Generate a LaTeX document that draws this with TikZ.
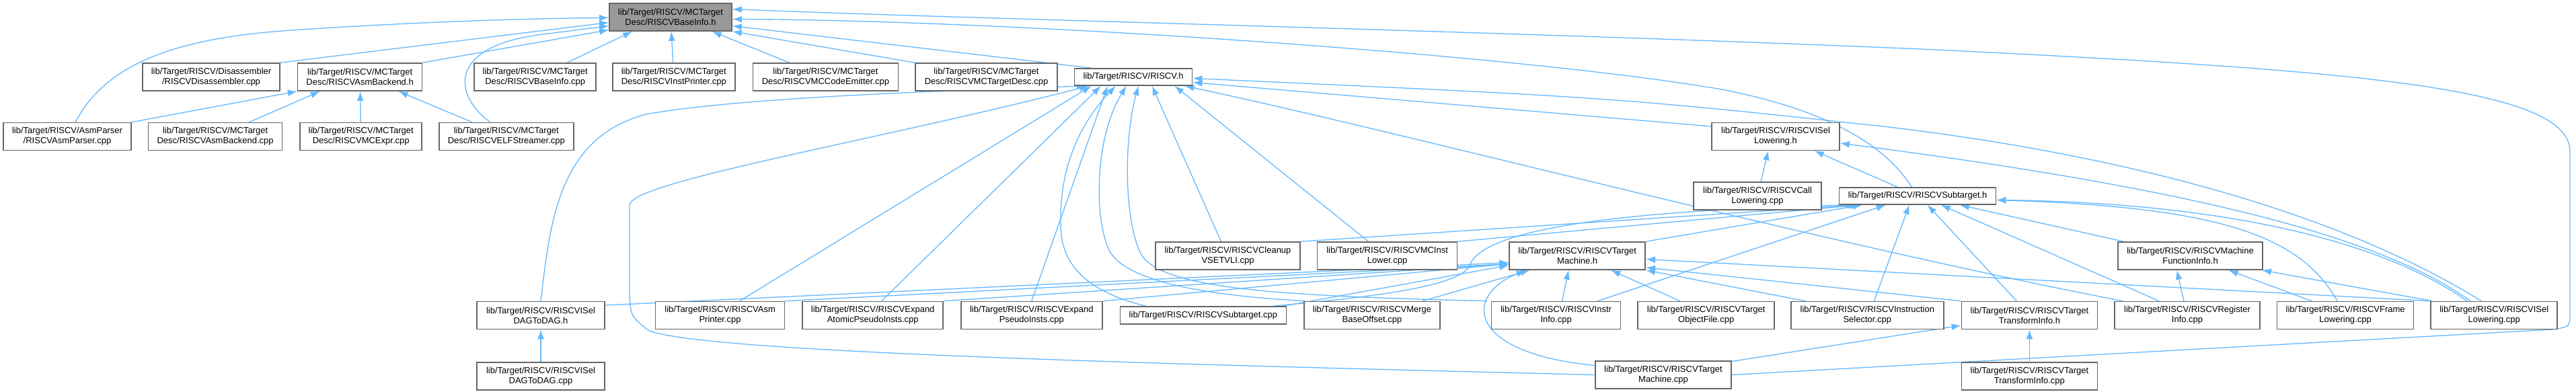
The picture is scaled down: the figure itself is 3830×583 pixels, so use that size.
\documentclass[tikz,border=0pt]{standalone}
\usepackage{fontspec}
\setmainfont{Liberation Sans}
\usetikzlibrary{positioning, arrows.meta, backgrounds}
\definecolor{edgecol}{RGB}{99, 184, 255}
\definecolor{boxline}{RGB}{102, 102, 102}
\definecolor{focusfill}{RGB}{153, 153, 153}
\tikzset{
  file/.style={draw=boxline, line width=1.6pt, fill=white, inner sep=0pt,
               minimum height=41pt, align=center, font={\fontsize{13}{15}\selectfont}},
  oneline/.style={file, minimum height=25pt},
  incl/.style={-{Latex[length=14pt, width=10pt]}, draw=edgecol, line width=1.3pt},
}

\begin{document}
\begin{tikzpicture}[x=1pt, y=-1pt]
  \useasboundingbox (0,0) rectangle (3830,583);

  % --- the header itself ---
  \node[file, fill=focusfill, minimum width=182pt] (baseinfoh) at (997,25.5)
        {lib/Target/RISCV/MCTarget\\Desc/RISCVBaseInfo.h};

  % --- second row ---
  \node[file, minimum width=204pt] (disasm) at (314,114.5)
        {lib/Target/RISCV/Disassembler\\/RISCVDisassembler.cpp};
  \node[file, minimum width=185pt, right=25pt of disasm] (asmbackendh)
        {lib/Target/RISCV/MCTarget\\Desc/RISCVAsmBackend.h};
  \node[file, minimum width=181pt, right=76pt of asmbackendh] (baseinfocpp)
        {lib/Target/RISCV/MCTarget\\Desc/RISCVBaseInfo.cpp};
  \node[file, minimum width=182pt, right=23pt of baseinfocpp] (instprinter)
        {lib/Target/RISCV/MCTarget\\Desc/RISCVInstPrinter.cpp};
  \node[file, minimum width=216pt, right=25pt of instprinter] (codeemitter)
        {lib/Target/RISCV/MCTarget\\Desc/RISCVMCCodeEmitter.cpp};
  \node[file, minimum width=211pt, right=24pt of codeemitter] (targetdesc)
        {lib/Target/RISCV/MCTarget\\Desc/RISCVMCTargetDesc.cpp};
  \node[oneline, minimum width=175pt, right=24pt of targetdesc] (riscvh)
        {lib/Target/RISCV/RISCV.h};

  % --- third row ---
  \node[file, minimum width=190pt] (asmparser) at (100,203)
        {lib/Target/RISCV/AsmParser\\/RISCVAsmParser.cpp};
  \node[file, minimum width=199pt, right=24pt of asmparser] (asmbackendcpp)
        {lib/Target/RISCV/MCTarget\\Desc/RISCVAsmBackend.cpp};
  \node[file, minimum width=181pt, right=25pt of asmbackendcpp] (mcexpr)
        {lib/Target/RISCV/MCTarget\\Desc/RISCVMCExpr.cpp};
  \node[file, minimum width=200pt, right=24pt of mcexpr] (elfstreamer)
        {lib/Target/RISCV/MCTarget\\Desc/RISCVELFStreamer.cpp};
  \node[file, minimum width=190pt] (isellowh) at (2640,203)
        {lib/Target/RISCV/RISCVISel\\Lowering.h};

  % --- fourth row ---
  \node[file, minimum width=190pt] (calllow) at (2613,291.5)
        {lib/Target/RISCV/RISCVCall\\Lowering.cpp};
  \node[oneline, minimum width=233pt, right=25pt of calllow] (subtargeth)
        {lib/Target/RISCV/RISCVSubtarget.h};

  % --- fifth row ---
  \node[file, minimum width=215pt] (cleanup) at (1825.5,380.5)
        {lib/Target/RISCV/RISCVCleanup\\VSETVLI.cpp};
  \node[file, minimum width=208pt, right=24pt of cleanup] (mcinstlower)
        {lib/Target/RISCV/RISCVMCInst\\Lower.cpp};
  \node[file, minimum width=202pt, right=76pt of mcinstlower] (tmh)
        {lib/Target/RISCV/RISCVTarget\\Machine.h};
  \node[file, minimum width=215pt] (mfih) at (3256.5,380.5)
        {lib/Target/RISCV/RISCVMachine\\FunctionInfo.h};

  % --- sixth row ---
  \node[file, minimum width=190pt] (iseldagh) at (804,469)
        {lib/Target/RISCV/RISCVISel\\DAGToDAG.h};
  \node[file, minimum width=192pt, right=74pt of iseldagh] (asmprinter)
        {lib/Target/RISCV/RISCVAsm\\Printer.cpp};
  \node[file, minimum width=209pt, right=25pt of asmprinter] (expandatomic)
        {lib/Target/RISCV/RISCVExpand\\AtomicPseudoInsts.cpp};
  \node[file, minimum width=210pt, right=25pt of expandatomic] (expandpseudo)
        {lib/Target/RISCV/RISCVExpand\\PseudoInsts.cpp};
  \node[oneline, minimum width=247pt, minimum height=26pt, right=25pt of expandpseudo] (subtargetcpp)
        {lib/Target/RISCV/RISCVSubtarget.cpp};
  \node[file, minimum width=202pt, right=25pt of subtargetcpp] (mergebase)
        {lib/Target/RISCV/RISCVMerge\\BaseOffset.cpp};
  \node[file, minimum width=192pt, right=75pt of mergebase] (instrinfo)
        {lib/Target/RISCV/RISCVInstr\\Info.cpp};
  \node[file, minimum width=203pt, right=24pt of instrinfo] (tobjfile)
        {lib/Target/RISCV/RISCVTarget\\ObjectFile.cpp};
  \node[file, minimum width=227pt, right=23pt of tobjfile] (instsel)
        {lib/Target/RISCV/RISCVInstruction\\Selector.cpp};
  \node[file, minimum width=202pt, right=25pt of instsel] (ttih)
        {lib/Target/RISCV/RISCVTarget\\TransformInfo.h};
  \node[file, minimum width=216pt, right=24pt of ttih] (reginfo)
        {lib/Target/RISCV/RISCVRegister\\Info.cpp};
  \node[file, minimum width=203pt, right=24pt of reginfo] (framelow)
        {lib/Target/RISCV/RISCVFrame\\Lowering.cpp};
  \node[file, minimum width=188pt, right=24pt of framelow] (isellowcpp)
        {lib/Target/RISCV/RISCVISel\\Lowering.cpp};

  % --- bottom row ---
  \node[file, minimum width=190pt, below=48pt of iseldagh] (iseldagcpp)
        {lib/Target/RISCV/RISCVISel\\DAGToDAG.cpp};
  \node[file, minimum width=202pt] (tmcpp) at (2473,557.5)
        {lib/Target/RISCV/RISCVTarget\\Machine.cpp};
  \node[file, minimum width=202pt, below=48pt of ttih] (tticpp)
        {lib/Target/RISCV/RISCVTarget\\TransformInfo.cpp};

  \begin{scope}[on background layer]
    % into RISCVBaseInfo.h
    \draw[incl] ([xshift=12pt]asmparser.north) .. controls (150,110) and (230,60) .. (420,46)
                .. controls (600,33) and (800,27) .. ([yshift=-1pt]baseinfoh.west);
    \draw[incl] (disasm.north east) -- ([yshift=-8pt]baseinfoh.west);
    \draw[incl] ([xshift=-24pt]elfstreamer.north) .. controls (672,140) and (668,70) .. (800,52)
                -- ([yshift=-13pt]baseinfoh.west);
    \draw[incl] (asmbackendh.north east) -- ([yshift=-19pt]baseinfoh.west);
    \draw[incl] ([xshift=-44pt]baseinfocpp.north east) -- ([xshift=35pt]baseinfoh.south west);
    \draw[incl] (instprinter) -- (baseinfoh);
    \draw[incl] ([xshift=55pt]codeemitter.north west) -- ([xshift=-30pt]baseinfoh.south east);
    \draw[incl] (targetdesc.north west) -- (baseinfoh.south east);
    \draw[incl] ([xshift=26pt]riscvh.north west) -- ([yshift=-13pt]baseinfoh.east);
    \draw[incl] ([xshift=-9pt]subtargeth.north) .. controls (2815,235) and (2750,170) .. (2560,133)
                .. controls (2250,80) and (1500,30) .. ([yshift=-3pt]baseinfoh.east);
    \draw[incl] (tmcpp.east) -- (3795,490) .. controls (3821,486) .. (3821,465) -- (3821,225)
                .. controls (3821,130) and (3500,105) .. (2900,75)
                .. controls (2300,48) and (1400,27) .. ([yshift=12pt]baseinfoh.east);

    % into RISCVAsmBackend.h
    \draw[incl] (asmparser.north east) -- (asmbackendh.south west);
    \draw[incl] ([xshift=-50pt]asmbackendcpp.north east) -- ([xshift=34pt]asmbackendh.south west);
    \draw[incl] (mcexpr) -- (asmbackendh);
    \draw[incl] ([xshift=50pt]elfstreamer.north west) -- ([xshift=-36pt]asmbackendh.south east);

    % into RISCV.h
    \draw[incl] (iseldagh.north) .. controls (818,330) and (830,205) .. (960,170)
                .. controls (1100,145) and (1400,135) .. ([xshift=18pt]riscvh.south west);
    \draw[incl] (tmcpp.west) .. controls (1800,543) and (1020,525) .. (962,490)
                .. controls (938,470) .. (936,440) -- (936,305)
                .. controls (938,270) and (1300,210) .. ([xshift=22pt]riscvh.south west);
    \draw[incl] ([xshift=29pt]asmprinter.north) -- ([xshift=26pt]riscvh.south west);
    \draw[incl] ([xshift=13pt]expandatomic.north) -- ([xshift=40pt]riscvh.south west);
    \draw[incl] (expandpseudo.north) -- ([xshift=50pt]riscvh.south west);
    \draw[incl] ([xshift=-85pt]subtargetcpp.north) .. controls (1640,440) and (1585,410) .. (1578,350)
                .. controls (1572,280) and (1590,200) .. ([xshift=62pt]riscvh.south west);
    \draw[incl] ([xshift=3pt]mergebase.north west) .. controls (1800,440) and (1670,420) .. (1648,370)
                .. controls (1625,315) and (1630,200) .. ([xshift=78pt]riscvh.south west);
    \draw[incl] ([xshift=-6pt]instrinfo.north west) .. controls (1900,440) and (1720,430) .. (1695,375)
                .. controls (1670,320) and (1672,200) .. ([xshift=96pt]riscvh.south west);
    \draw[incl] ([xshift=-10pt]cleanup.north) -- ([xshift=116pt]riscvh.south west);
    \draw[incl] ([xshift=-28pt]mcinstlower.north) -- ([xshift=-27pt]riscvh.south east);
    \draw[incl] ([xshift=13pt]reginfo.north west) .. controls (2700,360) and (2100,200)
                .. ([xshift=-12pt]riscvh.south east);
    \draw[incl] ([yshift=15pt]isellowh.west) -- ([yshift=-8pt]riscvh.east);
    \draw[incl] ([xshift=-19pt]isellowcpp.north) .. controls (3500,330) and (3200,235) .. (2800,188)
                .. controls (2400,145) .. ([yshift=-2pt]riscvh.east);

    % into RISCVISelLowering.h
    \draw[incl] ([xshift=5pt]calllow.north) -- ([xshift=-11pt]isellowh.south);
    \draw[incl] ([xshift=-30pt]subtargeth.north) -- ([xshift=-38pt]isellowh.south east);
    \draw[incl] ([xshift=-35pt]isellowcpp.north) .. controls (3550,360) and (3300,285) .. ([yshift=-10pt]isellowh.east);

    % into RISCVSubtarget.h
    \draw[incl] (cleanup.north east) -- ([xshift=27pt]subtargeth.south west);
    \draw[incl] (mcinstlower.north east) -- ([xshift=31pt]subtargeth.south west);
    \draw[incl] (tmh.north east) -- ([xshift=35pt]subtargeth.south west);
    \draw[incl] ([xshift=-20pt]subtargetcpp.north east) .. controls (2000,445) and (2170,430) .. (2185,395)
                .. controls (2205,335) and (2450,312) .. ([xshift=23pt]subtargeth.south west);
    \draw[incl] ([xshift=-35pt]instrinfo.north east) -- ([xshift=70pt]subtargeth.south west);
    \draw[incl] ([xshift=10pt]instsel.north) -- ([xshift=105pt]subtargeth.south west);
    \draw[incl] ([xshift=-19pt]ttih.north) -- ([xshift=132pt]subtargeth.south west);
    \draw[incl] ([xshift=-42pt]reginfo.north) -- ([xshift=152pt]subtargeth.south west);
    \draw[incl] ([xshift=9pt]mfih.north west) -- ([xshift=180pt]subtargeth.south west);
    \draw[incl] ([xshift=-12pt]framelow.north) .. controls (3420,350) and (3300,308) .. ([yshift=-6pt]subtargeth.east);
    \draw[incl] ([xshift=-40pt]isellowcpp.north) .. controls (3500,330) and (3200,300) .. ([yshift=-6pt]subtargeth.east);

    % into RISCVTargetMachine.h
    \draw[incl] (asmprinter.north east) -- ([yshift=-12pt]tmh.west);
    \draw[incl] (expandatomic.north east) -- ([yshift=-12pt]tmh.west);
    \draw[incl] (expandpseudo.north east) -- ([yshift=-12pt]tmh.west);
    \draw[incl] ([yshift=15pt]iseldagh.east) -- ([yshift=-10pt]tmh.west);
    \draw[incl] ([xshift=-5pt]subtargetcpp.north east) -- ([yshift=-14pt]tmh.west);
    \draw[incl] ([xshift=-27pt]mergebase.north east) -- ([xshift=31pt]tmh.south west);
    \draw[incl] ([yshift=14pt]tmcpp.west) .. controls (2180,525) and (2175,440) .. ([xshift=25pt]tmh.south west);
    \draw[incl] ([xshift=9pt]instrinfo.north) -- ([xshift=-13pt]tmh.south);
    \draw[incl] ([xshift=-39pt]tobjfile.north) -- ([xshift=50pt]tmh.south);
    \draw[incl] ([xshift=-92pt]instsel.north) -- (tmh.south east);
    \draw[incl] (ttih.north west) -- ([yshift=4pt]tmh.south east);
    \draw[incl] (isellowcpp.north west) -- ([yshift=-5pt]tmh.east);

    % into RISCVMachineFunctionInfo.h
    \draw[incl] ([xshift=-5pt]reginfo.north) -- ([xshift=-20pt]mfih.south);
    \draw[incl] ([xshift=-50pt]framelow.north) -- ([xshift=57pt]mfih.south);
    \draw[incl] ([xshift=3pt]isellowcpp.north west) -- ([xshift=-2pt]mfih.south east);

    % remaining single edges
    \draw[incl] ([yshift=20pt]tmcpp.east) -- ([yshift=-15pt]ttih.west);
    \draw[incl] (tticpp) -- (ttih);
    \draw[incl] (iseldagcpp) -- (iseldagh);
  \end{scope}
\end{tikzpicture}
\end{document}
